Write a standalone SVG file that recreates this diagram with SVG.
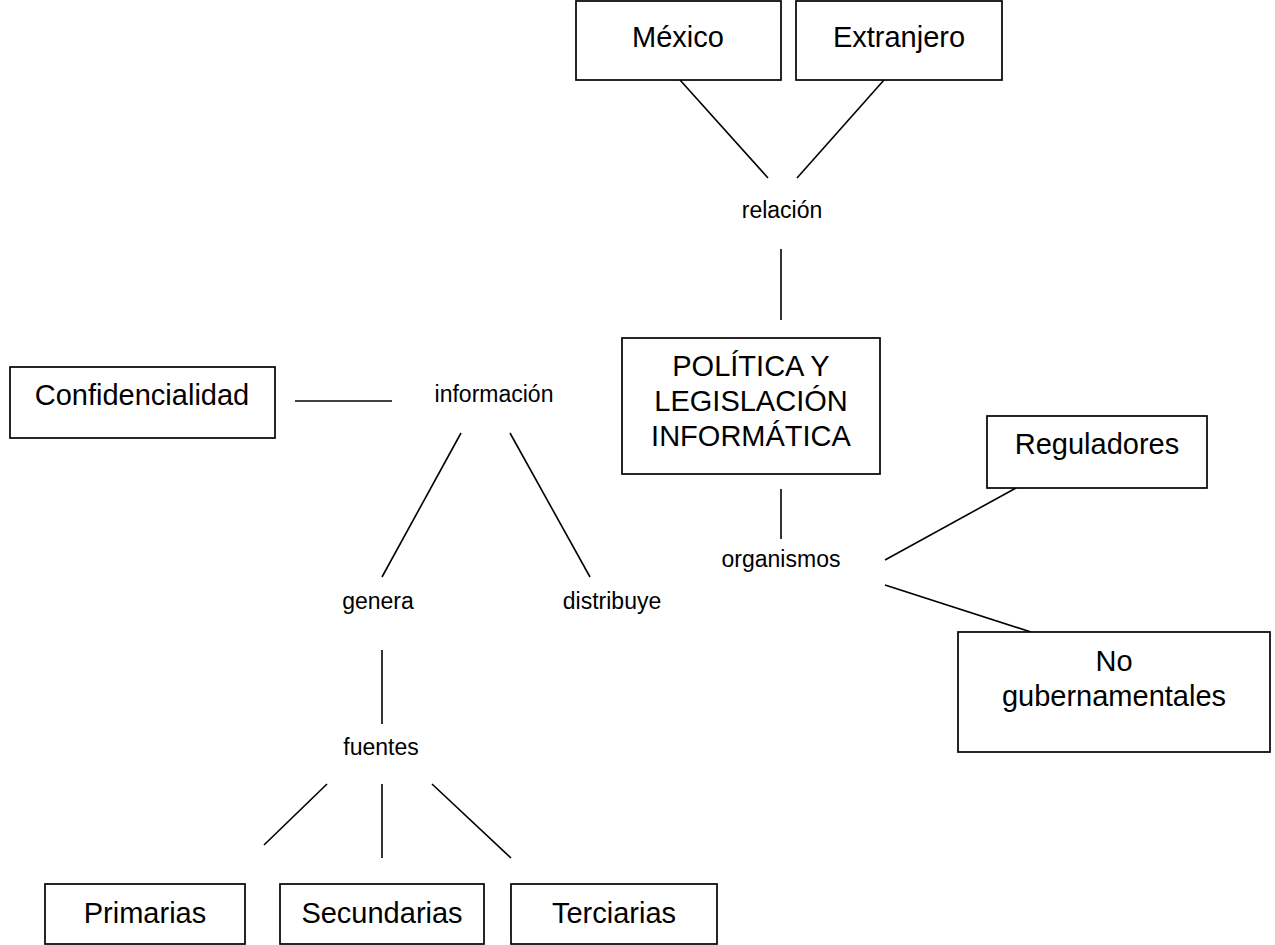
<svg xmlns="http://www.w3.org/2000/svg" width="1275" height="945" viewBox="0 0 1275 945">
<style>
.box{fill:#fff;stroke:#000;stroke-width:1.7}
.t{font-family:"Liberation Sans",Arial,sans-serif;font-size:29px;text-anchor:middle;fill:#000}
.l{font-family:"Liberation Sans",Arial,sans-serif;font-size:23px;text-anchor:middle;fill:#000}
.c line{stroke:#000;stroke-width:1.6}
</style>
<rect width="1275" height="945" fill="#fff"/>
<g class="c" id="connectors">
<line x1="680" y1="80" x2="768" y2="178"/>
<line x1="884" y1="80" x2="797" y2="178"/>
<line x1="781" y1="249" x2="781" y2="320"/>
<line x1="781" y1="489" x2="781" y2="539"/>
<line x1="885" y1="560" x2="1016" y2="488"/>
<line x1="885" y1="585" x2="1031" y2="632"/>
<line x1="295" y1="401" x2="392" y2="401"/>
<line x1="461" y1="433" x2="382" y2="577"/>
<line x1="510" y1="433" x2="590" y2="577"/>
<line x1="382" y1="650" x2="382" y2="724"/>
<line x1="327" y1="784" x2="264" y2="845"/>
<line x1="382" y1="784" x2="382" y2="858"/>
<line x1="432" y1="784" x2="511" y2="858"/>
</g>
<g id="mexico"><rect class="box" x="576" y="1" width="205" height="79"/><text class="t" x="678" y="47">México</text></g>
<g id="extranjero"><rect class="box" x="796" y="1" width="206" height="79"/><text class="t" x="899" y="47">Extranjero</text></g>
<g id="relacion"><text class="l" x="782" y="218">relación</text></g>
<g id="politica"><rect class="box" x="622" y="338" width="258" height="136"/>
<text class="t" x="751" y="376">POLÍTICA Y</text>
<text class="t" x="751" y="411">LEGISLACIÓN</text>
<text class="t" x="751" y="446">INFORMÁTICA</text></g>
<g id="organismos"><text class="l" x="781" y="567">organismos</text></g>
<g id="reguladores"><rect class="box" x="987" y="416" width="220" height="72"/><text class="t" x="1097" y="454">Reguladores</text></g>
<g id="nogub"><rect class="box" x="958" y="632" width="312" height="120"/>
<text class="t" x="1114" y="671">No</text>
<text class="t" x="1114" y="706">gubernamentales</text></g>
<g id="confidencialidad"><rect class="box" x="10" y="367" width="265" height="71"/><text class="t" x="142" y="405">Confidencialidad</text></g>
<g id="informacion"><text class="l" x="494" y="402">información</text></g>
<g id="genera"><text class="l" x="378" y="609">genera</text></g>
<g id="distribuye"><text class="l" x="612" y="609">distribuye</text></g>
<g id="fuentes"><text class="l" x="381" y="755">fuentes</text></g>
<g id="primarias"><rect class="box" x="45" y="884" width="200" height="60"/><text class="t" x="145" y="923">Primarias</text></g>
<g id="secundarias"><rect class="box" x="280" y="884" width="204" height="60"/><text class="t" x="382" y="923">Secundarias</text></g>
<g id="terciarias"><rect class="box" x="511" y="884" width="206" height="60"/><text class="t" x="614" y="923">Terciarias</text></g>
</svg>
